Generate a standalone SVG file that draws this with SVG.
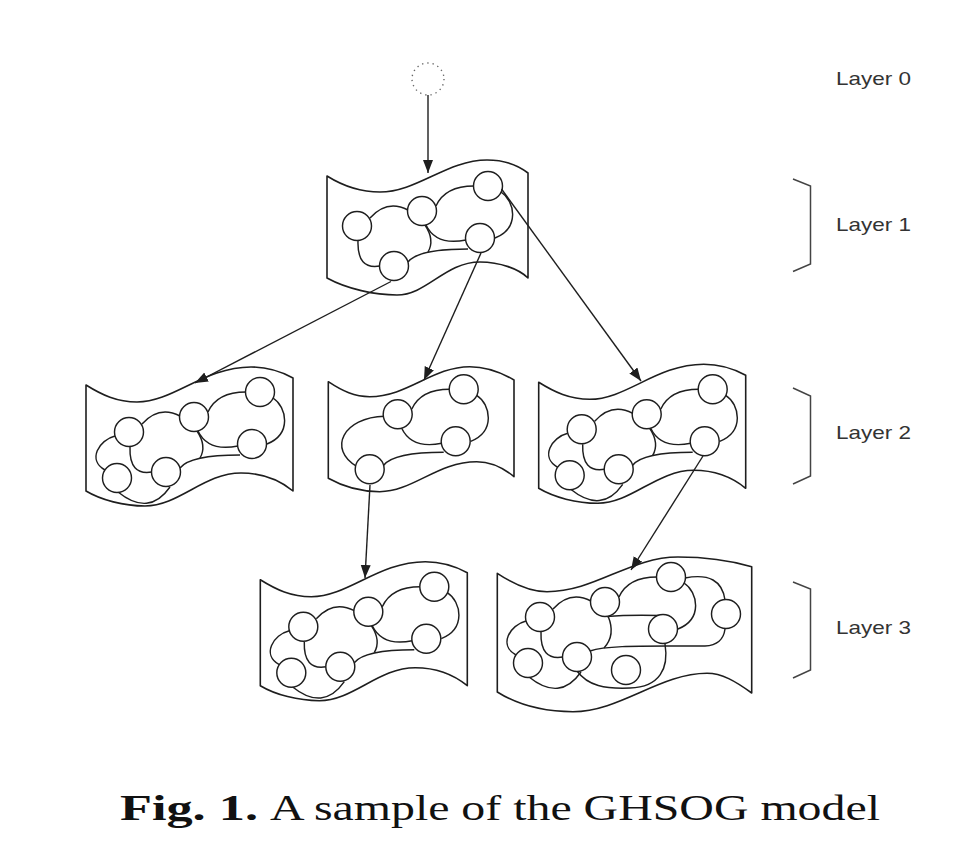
<svg xmlns="http://www.w3.org/2000/svg" xmlns:xlink="http://www.w3.org/1999/xlink" width="960" height="856" viewBox="0 0 960 856">
<style>
.frame{fill:#fff;stroke:#1e1e1e;stroke-width:1.6;stroke-linejoin:round}
.edge{fill:none;stroke:#1e1e1e;stroke-width:1.45}
.unit{fill:#fff;stroke:#1e1e1e;stroke-width:1.45}
.conn{fill:none;stroke:#1e1e1e;stroke-width:1.4;marker-end:url(#arr)}
.brk{fill:none;stroke:#444;stroke-width:1.5}
.lbl{font-family:"Liberation Sans",Arial,sans-serif;font-size:19px;fill:#333}
.cap{font-family:"Liberation Serif","Times New Roman",serif;font-size:35px;fill:#111}
</style>
<defs>
<marker id="arr" markerUnits="userSpaceOnUse" markerWidth="14" markerHeight="11" refX="13" refY="5" orient="auto"><path d="M0,0 L13,5 L0,10 Z" fill="#1e1e1e"/></marker>
<circle id="u" class="unit" r="14.5"/>
<path id="e1" class="edge" d="M13,-8 Q30,-27 51,-16"/>
<path id="e2" class="edge" d="M79,-20 Q88,-40 117,-40"/>
<path id="e3" class="edge" d="M144,-34 C158,-25 163,2 138,12"/>
<path id="e4" class="edge" d="M69,-1 Q79,20 109,14"/>
<path id="e5" class="edge" d="M-14,4 C-30,8 -42,28 -24,38"/>
<path id="e6" class="edge" d="M1,15 Q0,44 23,40"/>
<path id="e7" class="edge" d="M51,36 Q61,23 111,23"/>
<path id="e8" class="edge" d="M68,-1 Q78,14 71,26"/>
<path id="e9" class="edge" d="M-11,60 Q20,85 41,55"/>
<path id="frame6" class="frame" d="M-43,-47 C-27,-37 -12,-30 8,-30 C45,-30 75,-65 122,-65 C140,-65 153,-60 164,-54 L164,59 C153,50 135,41 112,41 C75,41 50,74 16,74 C-5,74 -28,68 -43,59 Z"/>
<g id="mesh6">
<use href="#e1"/><use href="#e2"/><use href="#e3"/><use href="#e4"/><use href="#e5"/><use href="#e6"/><use href="#e7"/><use href="#e8"/><use href="#e9"/>
<use href="#u"/><use href="#u" x="65" y="-15"/><use href="#u" x="131" y="-40"/><use href="#u" x="123" y="12"/><use href="#u" x="-12" y="46"/><use href="#u" x="37" y="40"/>
</g>
</defs>
<rect width="960" height="856" fill="#fff"/>

<g id="root">
<circle cx="428" cy="79" r="16" fill="none" stroke="#666" stroke-width="1.4" stroke-dasharray="1.3 4"/>
</g>

<g id="map-l1" transform="translate(357,226)">
<path class="frame" d="M-30,-50 C-14,-40 3,-34 23,-34 C60,-34 90,-66 130,-66 C148,-66 162,-60 171,-53 L171,52 C162,43 143,36 123,36 C88,36 70,69 40,69 C18,69 -10,63 -30,52 Z"/>
<use href="#e1"/><use href="#e2"/><use href="#e3"/><use href="#e4"/><use href="#e6"/><use href="#e7"/><use href="#e8"/>
<use href="#u"/><use href="#u" x="65" y="-15"/><use href="#u" x="131" y="-40"/><use href="#u" x="123" y="12"/><use href="#u" x="37" y="40"/>
</g>

<g id="map-l2a" transform="translate(129,432)">
<use href="#frame6"/><use href="#mesh6"/>
</g>

<g id="map-l2b" transform="translate(332.7,429.3)">
<path class="frame" d="M-4.4,-47.6 C10,-38 22,-32.6 37,-32.6 C75,-32.6 100,-62.6 137,-62.6 C155,-62.6 170,-56 181.3,-49.3 L181.3,47.4 C170,38 158,32.4 144,32.4 C105,32.4 80,62.4 47,62.4 C25,62.4 8,56 -4.4,49 Z"/>
<use href="#e2"/><use href="#e3"/><use href="#e4"/><use href="#e7"/>
<path class="edge" d="M52,-13 C10,-12 -5,20 24,37"/>
<use href="#u" x="65" y="-15"/><use href="#u" x="131" y="-40"/><use href="#u" x="123" y="12"/><use href="#u" x="37" y="40"/>
</g>

<g id="map-l2c" transform="translate(581.7,429.3)">
<use href="#frame6"/><use href="#mesh6"/>
</g>

<g id="map-l3a" transform="translate(303.3,626.7)">
<use href="#frame6"/><use href="#mesh6"/>
</g>

<g id="map-l3b" transform="translate(540,617)">
<path class="frame" d="M-42.7,-43.7 C-25,-32 -10,-25.3 7,-25.3 C55,-25.3 90,-60 138,-60 C165,-60 192,-56 211.7,-50.3 L211.7,76 C195,64 182,56.3 167,56.3 C120,56.3 80,94.7 33,94.7 C5,94.7 -22,88 -42.7,75 Z"/>
<use href="#e1"/><use href="#e2"/><use href="#e3"/><use href="#e5"/><use href="#e6"/><use href="#e9"/>
<path class="edge" d="M68,-1 Q76,18 64,31"/>
<path class="edge" d="M67,-0.5 C85,-2 100,-2 120,-1.5"/>
<path class="edge" d="M50,34 C65,29 95,29 127,29 L165,29 Q183,28 185,12"/>
<path class="edge" d="M145,-39 Q181,-46 185,-17"/>
<path class="edge" d="M125,27 C129,51 120,70 90,71 C65,72 48,69 37,54"/>
<use href="#u"/><use href="#u" x="65" y="-15"/><use href="#u" x="131" y="-40"/><use href="#u" x="123" y="12"/><use href="#u" x="-12" y="46"/><use href="#u" x="37" y="40"/><use href="#u" x="186" y="-3"/><use href="#u" x="86" y="53"/>
</g>

<g id="connectors">
<path class="conn" d="M428,95 L428,173"/>
<path class="conn" d="M391,281.5 L195,383"/>
<path class="conn" d="M481,253 L424,380"/>
<path class="conn" d="M501.5,189 L641,381"/>
<path class="conn" d="M370,485 L365,578"/>
<path class="conn" d="M703,456 L631,570"/>
</g>

<g id="layers">
<path class="brk" d="M793,179 L810.5,186 L810.5,264 L793,271.5"/>
<path class="brk" d="M793,388 L810.5,396 L810.5,476 L793,484"/>
<path class="brk" d="M793,582 L810.5,589 L810.5,670 L793,678"/>
<text class="lbl" x="836" y="85" textLength="75" lengthAdjust="spacingAndGlyphs">Layer 0</text>
<text class="lbl" x="836" y="231" textLength="75" lengthAdjust="spacingAndGlyphs">Layer 1</text>
<text class="lbl" x="836" y="439" textLength="75" lengthAdjust="spacingAndGlyphs">Layer 2</text>
<text class="lbl" x="836" y="634" textLength="75" lengthAdjust="spacingAndGlyphs">Layer 3</text>
</g>

<g id="caption">
<text class="cap" x="120" y="820" font-weight="bold" textLength="138" lengthAdjust="spacingAndGlyphs">Fig. 1.</text>
<text class="cap" x="270" y="820" textLength="610" lengthAdjust="spacingAndGlyphs">A sample of the GHSOG model</text>
</g>
</svg>
